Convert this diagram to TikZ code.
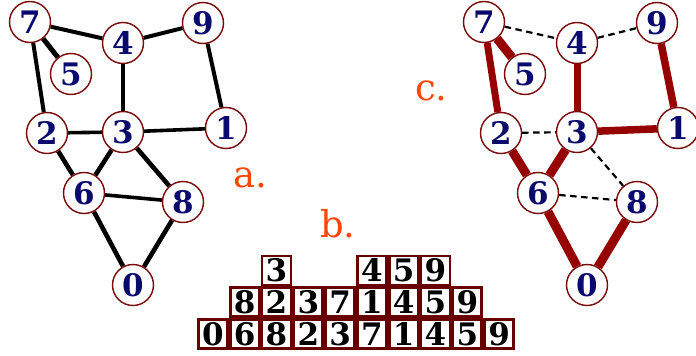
\documentclass[tikz,border=0pt]{standalone}
\usepackage{fontspec}
\setmainfont{DejaVu Serif}
\usetikzlibrary{backgrounds}
\definecolor{nodeborder}{RGB}{120,10,10}
\definecolor{navy}{RGB}{10,10,110}
\definecolor{treered}{RGB}{150,0,0}
\definecolor{boxred}{RGB}{105,0,0}
\definecolor{lblorange}{RGB}{255,70,10}
\tikzset{
  vtx/.style={circle, draw=nodeborder, line width=1.4pt, fill=white, minimum size=41pt, inner sep=0pt,
    text=navy, font=\fontsize{31}{31}\selectfont\bfseries},
  edge/.style={line width=4pt, black},
  tree/.style={line width=7.5pt, treered},
  nontree/.style={line width=2.2pt, black, dash pattern=on 6.5pt off 4.5pt},
  lbl/.style={anchor=base west, inner sep=0pt, text=lblorange, font=\fontsize{37}{37}\selectfont},
  cell/.style={draw=boxred, line width=2.8pt, minimum width=29pt, minimum height=29pt, inner sep=0pt,
    font=\fontsize{31}{31}\selectfont\bfseries},
}
\begin{document}
\begin{tikzpicture}[x=1pt,y=-1pt]
\useasboundingbox (0,0) rectangle (696,356);
% left graph
\node[vtx] (a7) at (30,22) {7};
\node[vtx] (a4) at (123,43) {4};
\node[vtx] (a9) at (203,23) {9};
\node[vtx] (a5) at (71,74) {5};
\node[vtx] (a2) at (47,133) {2};
\node[vtx] (a3) at (123,132) {3};
\node[vtx] (a1) at (226,128) {1};
\node[vtx] (a6) at (84,193) {6};
\node[vtx] (a8) at (183,202) {8};
\node[vtx] (a0) at (133,285) {0};
\begin{scope}[on background layer]
\draw[edge] (a7) -- (a4);
\draw[edge] (a4) -- (a9);
\draw[edge, line width=5pt] (a7) -- (a5);
\draw[edge] (a7) -- (a2);
\draw[edge, line width=3.3pt] (a4) -- (a3);
\draw[edge] (a9) -- (a1);
\draw[edge, line width=3.6pt] (a2) -- (a3);
\draw[edge, line width=3.6pt] (a3) -- (a1);
\draw[edge, line width=4.6pt] (a2) -- (a6);
\draw[edge, line width=4.6pt] (a3) -- (a6);
\draw[edge, line width=4.6pt] (a3) -- (a8);
\draw[edge, line width=3.6pt] (a6) -- (a8);
\draw[edge, line width=4.6pt] (a6) -- (a0);
\draw[edge, line width=4.6pt] (a8) -- (a0);
\end{scope}
% right graph
\node[vtx] (c7) at (484,22) {7};
\node[vtx] (c4) at (577,43) {4};
\node[vtx] (c9) at (657,23) {9};
\node[vtx] (c5) at (525,74) {5};
\node[vtx] (c2) at (501,133) {2};
\node[vtx] (c3) at (577,132) {3};
\node[vtx] (c1) at (678,128) {1};
\node[vtx] (c6) at (538,193) {6};
\node[vtx] (c8) at (637,202) {8};
\node[vtx] (c0) at (587,285) {0};
\begin{scope}[on background layer]
\draw[nontree] (c7) -- (c4);
\draw[nontree] (c4) -- (c9);
\draw[nontree] (c2) -- (c3);
\draw[nontree] (c3) -- (c8);
\draw[nontree] (c6) -- (c8);
\draw[tree, line width=9pt] (c7) -- (c5);
\draw[tree, line width=7pt] (c7) -- (c2);
\draw[tree, line width=7pt] (c4) -- (c3);
\draw[tree] (c9) -- (c1);
\draw[tree] (c3) -- (c1);
\draw[tree, line width=9pt] (c2) -- (c6);
\draw[tree, line width=9pt] (c3) -- (c6);
\draw[tree, line width=9pt] (c6) -- (c0);
\draw[tree, line width=9pt] (c8) -- (c0);
\end{scope}
% labels
\node[lbl] (la) at (233,187) {a.};
\node[lbl] (lb) at (320,237) {b.};
\node[lbl] (lc) at (415,100) {c.};
% array
\def\cw{31.8}
\foreach \d [count=\i from 0] in {0,6,8,2,3,7,1,4,5,9}
  \node[cell] (r0c\i) at ({197+\cw*(\i+0.5)},334) {\d};
\foreach \d [count=\i from 1] in {8,2,3,7,1,4,5,9}
  \node[cell] (r1c\i) at ({197+\cw*(\i+0.5)},302.2) {\d};
\node[cell] (r2c2) at ({197+\cw*2.5},270.4) {3};
\foreach \d [count=\i from 5] in {4,5,9}
  \node[cell] (r2c\i) at ({197+\cw*(\i+0.5)},270.4) {\d};
\end{tikzpicture}
\end{document}
